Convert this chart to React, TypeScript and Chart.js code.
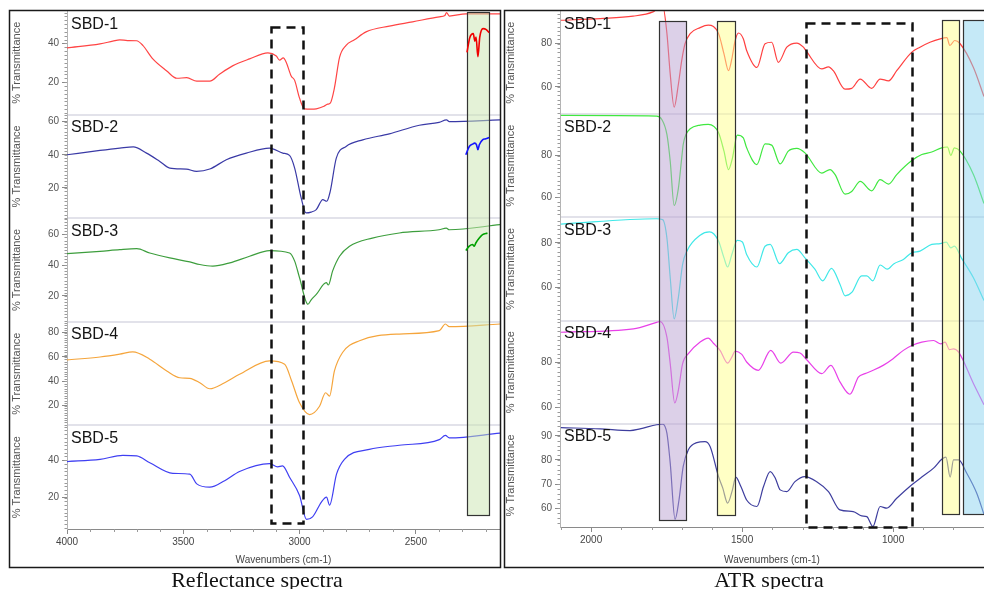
import React, { useEffect, useRef } from 'react';
import { Chart, registerables } from 'chart.js';

Chart.register(...registerables);

const FONT = '"Liberation Sans", Arial, Helvetica, sans-serif';

// ---------- Reflectance spectra (left panel) ----------
const reflLabels = ['SBD-1', 'SBD-2', 'SBD-3', 'SBD-4', 'SBD-5'];
const reflXTicks = [4000, 3500, 3000, 2500];
const reflYTicks = [[20, 40], [20, 40, 60], [20, 40, 60], [20, 40, 60, 80], [20, 40]];
const reflYRange = [[3.2, 56.8], [1.8, 64.2], [3.2, 70.5], [3.6, 89], [3.3, 58.6]];

const reflW1 = [4000, 3858, 3803, 3773, 3740, 3701, 3674, 3631, 3571, 3528, 3485, 3442, 3386, 3343, 3288, 3215, 3136, 3100, 3086, 3070, 3057, 3036, 3021, 3000, 2979, 2950, 2928, 2895, 2879, 2868, 2850, 2828, 2800, 2764, 2714, 2614, 2514, 2399, 2375, 2368, 2356, 2285, 2138];
const reflT1 = [37.7, 39.8, 41.2, 41.9, 41.5, 41.4, 39, 32, 25.8, 22, 22.3, 20.5, 20.5, 24.2, 28.4, 32, 35.1, 33.5, 31.4, 32.5, 30.2, 23.2, 20.9, 11.7, 6.2, 6, 6.2, 7.5, 8.6, 9.1, 17, 32.8, 39, 41.9, 46, 49, 51.2, 53.8, 54.5, 56, 54.2, 55.3, 55.3];

const reflW2 = [4000, 3858, 3773, 3715, 3658, 3601, 3558, 3487, 3443, 3386, 3315, 3229, 3129, 3072, 3043, 3021, 2993, 2972, 2950, 2928, 2900, 2883, 2868, 2842, 2800, 2728, 2614, 2485, 2400, 2368, 2356, 2138];
const reflT2 = [40, 42.6, 44, 44.8, 41, 36, 32, 31.4, 30, 31.4, 37, 41, 44, 41, 39.6, 32, 14, 5, 5.5, 7, 13, 12, 18, 38, 45, 49, 52.6, 57.8, 59.5, 61, 60, 61];

const reflW3 = [4000, 3858, 3773, 3700, 3644, 3558, 3472, 3429, 3373, 3300, 3215, 3129, 3043, 3021, 3000, 2964, 2950, 2928, 2885, 2876, 2858, 2828, 2785, 2687, 2571, 2400, 2369, 2356, 2138];
const reflT3 = [47.5, 49, 50.1, 50.7, 47.9, 44.7, 42.1, 40.4, 39.4, 41.5, 45.8, 49.5, 47.9, 42.6, 31.8, 14.6, 17.5, 21, 28.6, 27.1, 36.1, 45.8, 52.3, 57.6, 60.9, 63, 64, 63, 66.3];

const reflW4 = [4000, 3858, 3773, 3717, 3644, 3571, 3515, 3472, 3429, 3386, 3322, 3258, 3129, 3064, 3034, 3000, 2957, 2914, 2888, 2871, 2850, 2815, 2742, 2571, 2399, 2373, 2356, 2138];
const reflT4 = [57.6, 60, 62.3, 64.2, 58.2, 48.5, 42.9, 42.4, 38.8, 33.8, 38.8, 45.7, 56.8, 54, 40.2, 22.2, 12.5, 19.4, 30.5, 27.7, 48.5, 63.7, 73.4, 78.9, 81.7, 87.2, 85, 87.2];

const reflW5 = [4000, 3858, 3760, 3700, 3644, 3545, 3472, 3442, 3386, 3322, 3258, 3129, 3094, 3073, 3043, 3000, 2970, 2944, 2906, 2884, 2871, 2841, 2807, 2700, 2571, 2399, 2373, 2356, 2138];
const reflT5 = [39.3, 40.5, 42.6, 42.3, 38.7, 33, 32.6, 27.4, 25.6, 29.1, 34, 38.2, 36.5, 37, 30.9, 21.2, 8.4, 9.8, 17.7, 20.3, 16, 32.6, 40.5, 45.8, 48, 51, 53.3, 51.9, 54.5];

// expanded insets inside the green box
const insetW1 = [2280, 2268, 2253, 2246, 2241, 2233, 2225, 2211, 2197, 2185];
const insetT1 = [35.4, 43, 45.1, 41.2, 43.3, 33.2, 43.3, 47.7, 47.2, 45.6];
const insetW2 = [2285, 2270, 2256, 2247, 2239, 2233, 2227, 2213, 2199, 2185];
const insetT2 = [40, 45, 46.4, 47, 46, 43, 46, 49, 49.6, 50.4];
const insetW3 = [2285, 2270, 2256, 2249, 2242, 2227, 2213, 2192];
const insetT3 = [49.5, 52.3, 53.4, 52.3, 54.4, 57.6, 59.8, 60.8];

// ---------- ATR spectra (right panel) ----------
const atrLabels = ['SBD-1', 'SBD-2', 'SBD-3', 'SBD-4', 'SBD-5'];
const atrXTicks = [2000, 1500, 1000];
const atrYTicks = [[60, 80], [60, 80], [60, 80], [60, 80], [60, 70, 80, 90]];
const atrYRange = [[47.3, 95.2], [50.4, 99.8], [45.2, 91.4], [52.7, 98.8], [52.2, 95]];

const atrW1 = [2100, 1970, 1861, 1795, 1770, 1762, 1749, 1738, 1725, 1711, 1700, 1689, 1672, 1639, 1612, 1578, 1560, 1545, 1534, 1523, 1512, 1496, 1485, 1451, 1424, 1402, 1380, 1352, 1319, 1297, 1289, 1236, 1214, 1198, 1159, 1137, 1109, 1071, 1043, 1015, 988, 938, 911, 878, 844, 822, 812, 796, 778, 734, 699];
const atrT1 = [90.9, 91.7, 92.8, 94.8, 97, 97, 84.8, 65.9, 50.6, 61.2, 72.2, 80, 84.7, 87.5, 88.6, 84.7, 75.3, 67.5, 73, 81.5, 85, 82.3, 76.9, 69, 80, 80.7, 71.4, 78.4, 80.3, 78.4, 76.9, 68.3, 69.3, 67.5, 58.9, 59.3, 63.6, 59.3, 63.6, 62.8, 67.5, 76.1, 78.4, 80.7, 82.3, 82.8, 79.2, 81.5, 80, 69, 55.5];

const atrW2 = [2100, 1783, 1766, 1749, 1738, 1725, 1711, 1700, 1695, 1686, 1672, 1639, 1612, 1578, 1560, 1545, 1532, 1516, 1496, 1485, 1451, 1424, 1402, 1374, 1347, 1319, 1292, 1236, 1209, 1192, 1159, 1137, 1109, 1071, 1043, 1015, 988, 938, 905, 872, 839, 820, 809, 797, 778, 734, 699];
const atrT2 = [99.2, 98.9, 97.3, 90.1, 77.3, 56.1, 64.3, 78.8, 85.3, 90.1, 92.8, 94.6, 94.9, 90.9, 82.1, 73.3, 78.8, 89.8, 88.5, 83.7, 75.7, 85.6, 85, 76, 82.1, 83.4, 81.3, 71.6, 73.3, 70.9, 61.5, 62.8, 67.6, 63.1, 68.5, 66.3, 70.9, 77.6, 80.5, 81.7, 83.7, 84.1, 80.1, 83.7, 82.1, 70.9, 57];

const atrW3 = [2100, 1783, 1763, 1749, 1738, 1725, 1711, 1697, 1683, 1639, 1608, 1578, 1560, 1548, 1534, 1516, 1499, 1485, 1451, 1424, 1407, 1376, 1347, 1319, 1292, 1259, 1233, 1204, 1176, 1159, 1137, 1104, 1087, 1067, 1043, 1019, 997, 966, 938, 911, 872, 844, 824, 809, 797, 774, 734, 699];
const atrT3 = [88.4, 90.8, 90.4, 82.2, 64.4, 46, 55.6, 70.4, 76.3, 83.4, 84.9, 80.8, 73.3, 69.2, 74.8, 81.1, 80.4, 74.8, 69.2, 78.5, 79.3, 70.7, 75.6, 77.1, 73.3, 68.2, 63, 68.6, 61.5, 56.3, 57.8, 65.2, 65.2, 63, 70.1, 68.2, 70.7, 72.6, 75.6, 76.3, 79.3, 79.7, 80.3, 77.8, 78.5, 73.3, 64.4, 54.2];

const atrW4 = [2100, 1860, 1783, 1772, 1749, 1738, 1723, 1711, 1697, 1678, 1639, 1612, 1595, 1573, 1548, 1534, 1523, 1501, 1485, 1446, 1405, 1372, 1330, 1308, 1286, 1236, 1206, 1176, 1143, 1115, 1093, 1066, 1033, 1000, 966, 938, 905, 866, 842, 828, 813, 800, 783, 734, 699];
const atrT4 = [93.6, 95.1, 98, 98.4, 91.4, 79.6, 62, 67.7, 79.6, 84, 89.2, 91, 88.7, 85.5, 79.8, 82.5, 85.2, 83.7, 80.3, 76.6, 85.5, 79.8, 84.7, 84.3, 81.3, 75.1, 78.8, 71.4, 65.9, 73.6, 75.1, 76.6, 78.8, 81.8, 85.5, 87.7, 89.2, 89.9, 88.4, 89.2, 85.8, 86.2, 84.7, 70.7, 61.2];

const atrW5 = [2100, 1970, 1871, 1838, 1783, 1763, 1749, 1738, 1722, 1709, 1695, 1678, 1650, 1623, 1606, 1578, 1564, 1548, 1532, 1521, 1504, 1485, 1451, 1429, 1407, 1390, 1374, 1352, 1325, 1292, 1253, 1214, 1176, 1132, 1104, 1087, 1067, 1043, 1021, 988, 938, 905, 866, 839, 825, 811, 800, 783, 756, 723, 699];
const atrT5 = [93.4, 92.9, 92.2, 92.9, 94.6, 94.9, 91.1, 78.7, 55.4, 63.4, 77.3, 84.2, 87.2, 87.6, 85.6, 73.1, 68.3, 62.1, 67.6, 72.9, 69, 63.4, 60.7, 69, 75.2, 72.4, 67.6, 66.9, 71, 73.1, 71, 66.9, 59.3, 58.6, 56.8, 56.5, 52.4, 60.7, 60, 64.1, 69.7, 72.9, 76.6, 80.3, 81.2, 72.9, 80, 80, 74.5, 66.2, 57.4];

const reflColors = ['#ff4444', '#3a3aa6', '#3d9e3d', '#f5a53c', '#3f3ff2'];
const insetColors = ['#f00000', '#1414ff', '#00a000'];
const atrColors = ['#ff4040', '#40e840', '#40e8e8', '#e840e8', '#3e3e9e'];

const Y_IDS = ['y1', 'y2', 'y3', 'y4', 'y5'];

type Box = { x1: number; x2: number; top: [string, number]; bottom: [string, number]; fill?: string; dashed?: boolean };

const reflBoxes: Box[] = [
  { x1: 3123, x2: 2987, top: ['y1', 48.4], bottom: ['y5', 6.3], dashed: true },
  { x1: 2279, x2: 2186, top: ['y1', 56.5], bottom: ['y5', 11], fill: 'rgba(201,229,175,0.5)' },
];
const atrBoxes: Box[] = [
  { x1: 1775, x2: 1686, top: ['y1', 90.6], bottom: ['y5', 54.9], fill: 'rgba(185,161,209,0.5)' },
  { x1: 1582, x2: 1523, top: ['y1', 90.6], bottom: ['y5', 57.2], fill: 'rgba(255,255,140,0.5)' },
  { x1: 1289, x2: 937, top: ['y1', 89.7], bottom: ['y5', 52.0], dashed: true },
  { x1: 839, x2: 781, top: ['y1', 90.9], bottom: ['y5', 57.5], fill: 'rgba(255,255,140,0.5)' },
  { x1: 769, x2: 600, top: ['y1', 90.9], bottom: ['y5', 57.5], fill: 'rgba(140,212,240,0.5)' },
];

const pts = (w: number[], t: number[]) => w.map((x, i) => ({ x, y: t[i] }));

const decorPlugin = {
  id: 'decor',
  beforeDatasetsDraw(chart: any, _a: any, opts: any) {
    const ctx = chart.ctx;
    const ca = chart.chartArea;
    ctx.save();
    ctx.strokeStyle = '#e2e2ea';
    ctx.lineWidth = 2;
    for (let i = 1; i < Y_IDS.length; i++) {
      const s = chart.scales[Y_IDS[i]];
      const y = Math.round(s.top);
      ctx.beginPath();
      ctx.moveTo(ca.left + 1, y);
      ctx.lineTo(ca.right, y);
      ctx.stroke();
    }
    ctx.restore();
  },
  afterDatasetDraw(chart: any, args: any, opts: any) {
    if (args.index !== 0) return;
    const ctx = chart.ctx;
    const xs = chart.scales.x;
    ctx.save();
    for (const b of opts.boxes as Box[]) {
      const xa = Math.round(xs.getPixelForValue(b.x1)) + 0.5;
      const xb = Math.round(xs.getPixelForValue(b.x2)) + 0.5;
      const ya = Math.round(chart.scales[b.top[0]].getPixelForValue(b.top[1])) + 0.5;
      const yb = Math.round(chart.scales[b.bottom[0]].getPixelForValue(b.bottom[1])) + 0.5;
      if (b.dashed) {
        ctx.setLineDash([9, 6]);
        ctx.lineWidth = 2.5;
        ctx.strokeStyle = '#111';
        ctx.strokeRect(xa, ya, xb - xa, yb - ya);
        ctx.setLineDash([]);
      } else {
        ctx.fillStyle = b.fill;
        ctx.fillRect(xa, ya, xb - xa, yb - ya);
        ctx.lineWidth = 1.2;
        ctx.strokeStyle = '#333';
        ctx.strokeRect(xa, ya, xb - xa, yb - ya);
      }
    }
    ctx.restore();
  },
  afterDraw(chart: any, _a: any, opts: any) {
    const ctx = chart.ctx;
    const ca = chart.chartArea;
    ctx.save();
    // sample labels
    ctx.fillStyle = '#151515';
    ctx.font = '16px ' + FONT;
    ctx.textBaseline = 'alphabetic';
    ctx.textAlign = 'left';
    Y_IDS.forEach((id, i) => {
      const s = chart.scales[id];
      ctx.fillText(opts.labels[i], ca.left + 4, s.top + 17.5);
    });
    // minor ticks on y axes
    ctx.strokeStyle = '#9a9a9a';
    ctx.lineWidth = 1;
    Y_IDS.forEach((id) => {
      const s = chart.scales[id];
      for (let v = Math.ceil(s.min / 2) * 2; v <= s.max; v += 2) {
        const y = Math.round(s.getPixelForValue(v)) + 0.5;
        ctx.beginPath();
        ctx.moveTo(ca.left - 2.5, y);
        ctx.lineTo(ca.left, y);
        ctx.stroke();
      }
    });
    // minor ticks on x axis
    const xs = chart.scales.x;
    for (let v = Math.ceil(xs.min / 100) * 100; v <= xs.max; v += 100) {
      if (v % 500 === 0) continue;
      const x = Math.round(xs.getPixelForValue(v)) + 0.5;
      ctx.beginPath();
      ctx.moveTo(x, ca.bottom);
      ctx.lineTo(x, ca.bottom + 3);
      ctx.stroke();
    }
    // frame
    ctx.strokeStyle = '#1a1a1a';
    ctx.lineWidth = 1.5;
    const f = opts.frame;
    ctx.strokeRect(f[0], f[1], f[2], f[3]);
    ctx.restore();
  },
};

function buildConfig(p: {
  series: { w: number[]; t: number[] }[];
  colors: string[];
  insets: { w: number[]; t: number[]; color: string; axis: string }[];
  yRange: number[][];
  yTicks: number[][];
  xTicks: number[];
  xMin: number;
  xMax: number;
  yWidth: number;
  xHeight: number;
  titlePad: number;
  padRight: number;
  labels: string[];
  boxes: Box[];
  frame: number[];
}) {
  const datasets: any[] = p.series.map((s, i) => ({
    data: pts(s.w, s.t),
    yAxisID: Y_IDS[i],
    borderColor: p.colors[i],
    borderWidth: 1.2,
    pointRadius: 0,
    cubicInterpolationMode: 'monotone',
    fill: false,
    order: 2,
  }));
  p.insets.forEach((s) => {
    datasets.push({
      data: pts(s.w, s.t),
      yAxisID: s.axis,
      borderColor: s.color,
      borderWidth: 1.6,
      pointRadius: 0,
      cubicInterpolationMode: 'monotone',
      fill: false,
      order: 1,
    });
  });
  const scales: any = {
    x: {
      type: 'linear',
      position: 'bottom',
      reverse: true,
      min: p.xMin,
      max: p.xMax,
      afterBuildTicks: (s: any) => {
        s.ticks = p.xTicks.map((v) => ({ value: v }));
      },
      afterFit: (s: any) => {
        s.height = p.xHeight;
      },
      border: { display: true, color: '#8a8a8a', width: 1 },
      grid: { drawOnChartArea: false, drawTicks: true, tickLength: 5, color: '#8a8a8a' },
      ticks: {
        autoSkip: false,
        maxRotation: 0,
        padding: 2,
        color: '#444',
        font: { size: 10, family: FONT },
        callback: (v: any) => String(v),
      },
      title: {
        display: true,
        text: 'Wavenumbers (cm-1)',
        color: '#444',
        font: { size: 10, family: FONT },
        padding: { top: 0, bottom: 23 },
      },
    },
  };
  Y_IDS.forEach((id, i) => {
    scales[id] = {
      type: 'linear',
      position: 'left',
      stack: 'spectra',
      stackWeight: 1,
      weight: 5 - i,
      min: p.yRange[i][0],
      max: p.yRange[i][1],
      afterBuildTicks: (s: any) => {
        s.ticks = p.yTicks[i].map((v) => ({ value: v }));
      },
      afterFit: (s: any) => {
        s.width = p.yWidth;
      },
      border: { display: true, color: '#b4b4b4', width: 1 },
      grid: { drawOnChartArea: false, drawTicks: true, tickLength: 5, color: '#8a8a8a' },
      ticks: { padding: 3, color: '#555', font: { size: 10, family: FONT } },
      title: {
        display: true,
        text: '% Transmittance',
        color: '#555',
        font: { size: 11, family: FONT },
        padding: { top: p.titlePad, bottom: 0 },
      },
    };
  });
  return {
    type: 'line' as const,
    data: { datasets },
    options: {
      responsive: false,
      animation: false as const,
      events: [] as any[],
      parsing: true,
      layout: { padding: { top: 11, left: 0, right: p.padRight, bottom: 0 } },
      plugins: {
        legend: { display: false },
        tooltip: { enabled: false },
        decor: { labels: p.labels, boxes: p.boxes, frame: p.frame },
      },
      scales,
    },
    plugins: [decorPlugin],
  };
}

export default function App() {
  const leftRef = useRef<HTMLCanvasElement>(null);
  const rightRef = useRef<HTMLCanvasElement>(null);

  useEffect(() => {
    Chart.defaults.font.family = FONT;
    const left = new Chart(
      leftRef.current as HTMLCanvasElement,
      buildConfig({
        series: [
          { w: reflW1, t: reflT1 },
          { w: reflW2, t: reflT2 },
          { w: reflW3, t: reflT3 },
          { w: reflW4, t: reflT4 },
          { w: reflW5, t: reflT5 },
        ],
        colors: reflColors,
        insets: [
          { w: insetW1, t: insetT1, color: insetColors[0], axis: 'y1' },
          { w: insetW2, t: insetT2, color: insetColors[1], axis: 'y2' },
          { w: insetW3, t: insetT3, color: insetColors[2], axis: 'y3' },
        ],
        yRange: reflYRange,
        yTicks: reflYTicks,
        xTicks: reflXTicks,
        xMin: 2138,
        xMax: 4000,
        yWidth: 67,
        xHeight: 60,
        titlePad: 10,
        padRight: 2,
        labels: reflLabels,
        boxes: reflBoxes,
        frame: [9.5, 10.5, 491, 557],
      }) as any
    );
    const right = new Chart(
      rightRef.current as HTMLCanvasElement,
      buildConfig({
        series: [
          { w: atrW1, t: atrT1 },
          { w: atrW2, t: atrT2 },
          { w: atrW3, t: atrT3 },
          { w: atrW4, t: atrT4 },
          { w: atrW5, t: atrT5 },
        ],
        colors: atrColors,
        insets: [],
        yRange: atrYRange,
        yTicks: atrYTicks,
        xTicks: atrXTicks,
        xMin: 699,
        xMax: 2103,
        yWidth: 57,
        xHeight: 62,
        titlePad: 1,
        padRight: 0,
        labels: atrLabels,
        boxes: atrBoxes,
        frame: [1.5, 10.5, 600, 557],
      }) as any
    );
    return () => {
      left.destroy();
      right.destroy();
    };
  }, []);

  const caption = (left: number): React.CSSProperties => ({
    position: 'absolute',
    left,
    top: 569,
    width: 220,
    textAlign: 'center',
    fontFamily: '"Liberation Serif", "DejaVu Serif", serif',
    fontSize: 22,
    lineHeight: '22px',
    color: '#111',
    whiteSpace: 'nowrap',
  });

  return (
    <div
      style={{
        position: 'absolute',
        left: 0,
        top: 0,
        width: 984,
        height: 589,
        background: '#fff',
        overflow: 'hidden',
      }}
    >
      <canvas ref={leftRef} width={502} height={589} style={{ position: 'absolute', left: 0, top: 0 }} />
      <canvas ref={rightRef} width={481} height={589} style={{ position: 'absolute', left: 503, top: 0 }} />
      <div style={caption(147)}>Reflectance spectra</div>
      <div style={caption(659)}>ATR spectra</div>
    </div>
  );
}
